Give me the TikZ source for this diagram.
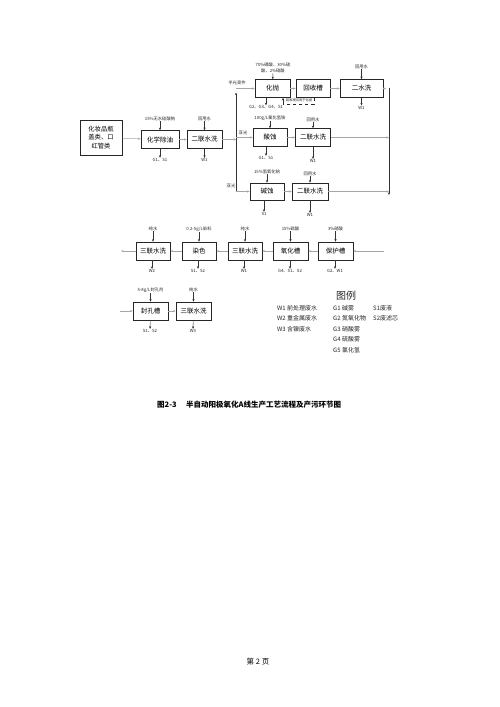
\documentclass[tikz,border=0pt]{standalone}
\usepackage{fontspec}
\newfontfamily\cjk{Noto Sans CJK SC}
\usetikzlibrary{arrows.meta}
\begin{document}
\begin{tikzpicture}[x=1pt,y=-1pt,
  box/.style={draw=black!85, line width=0.6pt, minimum width=35pt, minimum height=18pt, inner sep=0pt, font=\cjk\fontsize{6.5}{7}\selectfont},
  lab/.style={font=\cjk\fontsize{4.3}{5}\selectfont, inner sep=0.3pt, text=black!85},
  leg/.style={font=\cjk\fontsize{6}{7}\selectfont, inner sep=0pt, anchor=west, text=black!85},
  arr/.style={-{Stealth[length=2.6pt,width=2.2pt]}, line width=0.4pt, black!80},
  flow/.style={-{Stealth[length=2.6pt,width=2.2pt]}, line width=0.5pt, black!35},
  ln/.style={line width=0.6pt, black!85}]
\useasboundingbox (0,0) rectangle (500,707);
\fill[white] (0,0) rectangle (500,707);

% ---------- left part ----------
\node[box, minimum width=42pt, minimum height=35pt, align=center, font=\cjk\fontsize{6.3}{8.5}\selectfont] (src) at (101,137.5) {化妆品瓶\\盖类、口\\红管类};
\node[box, minimum width=38pt] (cy) at (160,139.5) {化学除油};
\node[box] (sx1) at (204.5,139.5) {二联水洗};
\node[lab] (cyin) at (160,119) {15\%无水硅酸钠};
\node[lab] (cyout) at (160,160) {G1、S1};
\node[lab] (sx1in) at (204.5,119) {回用水};
\node[lab] (sx1out) at (204.5,160) {W1};
\draw[arr] (cyin) -- (cy);
\draw[arr] (cy) -- (cyout);
\draw[arr] (sx1in) -- (sx1);
\draw[arr] (sx1) -- (sx1out);
\draw[flow] (src) -- (cy);
\draw[flow] (cy) -- (sx1);

% ---------- trunk ----------
\coordinate (t1) at (236,88.5);
\coordinate (t2) at (236,137.5);
\coordinate (t3) at (236,191.5);
\coordinate (tm) at (236,139.5);
\draw[flow] (sx1) -- (tm);
\draw[arr, line width=0.6pt] (t3) -- ([yshift=-4pt]t1);

% ---------- row 1 ----------
\node[box] (hp) at (272.5,88.5) {化抛};
\node[box, minimum width=34pt] (hs) at (313,88.5) {回收槽};
\node[box, minimum width=43pt] (ex) at (361.5,88.5) {二水洗};
\node[lab, align=center, font=\cjk\fontsize{4.3}{6}\selectfont] (hpin) at (273,68) {70\%磷酸、30\%硫\\酸、2\%硝酸};
\node[lab] (hpout) at (266,107.5) {G2、G3、G4、S1};
\node[lab] (exin) at (361.5,67) {回用水};
\node[lab] (exout) at (361.5,107.5) {W1};
\node[lab] (l1) at (237,83) {半光亮件};
\draw[arr] (hpin) -- (hp);
\draw[arr] (hp.south -| hpout) -- (hpout);
\draw[arr] (exin) -- (ex);
\draw[arr] (ex) -- (exout);
\draw[flow] (t1) -- (hp);
\draw[flow] (hp) -- (hs);
\draw[flow] (hs) -- (ex);
% recycle
\coordinate (rc1) at (314,104);
\coordinate (rc2) at (283,104);
\draw[ln, dashed, line width=0.5pt] (hs.south -| rc1) -- (rc1) -- (rc2);
\draw[arr] (rc2) -- (hp.south -| rc2);
\node[lab, font=\cjk\fontsize{3.3}{4}\selectfont] (rcl) at (299,100) {回收液回用于化抛};

% ---------- row 2 ----------
\node[box, minimum width=34pt] (sy) at (270,137.5) {酸蚀};
\node[box] (sx2) at (313,137.5) {二联水洗};
\node[lab] (syin) at (270,118) {100g/L氟化氢铵};
\node[lab] (syout) at (266,158) {G1、S1};
\node[lab] (sx2in) at (313,120) {回用水};
\node[lab] (sx2out) at (313,161) {W1};
\node[lab] (l2) at (243,133) {亚光};
\draw[arr] (syin) -- (sy);
\draw[arr] (sy.south -| syout) -- (syout);
\draw[arr] (sx2in) -- (sx2);
\draw[arr] (sx2) -- (sx2out);
\draw[flow] (t2) -- (sy);
\draw[flow] (sy) -- (sx2);

% ---------- row 3 ----------
\node[box, minimum width=34pt, minimum height=17pt] (jy) at (267,191.5) {碱蚀};
\node[box, minimum width=36pt, minimum height=17pt] (sx3) at (310,191.5) {二联水洗};
\node[lab] (jyin) at (267,172) {15\%氢氧化钠};
\node[lab] (jyout) at (264,214) {S1};
\node[lab] (sx3in) at (310,174) {回用水};
\node[lab] (sx3out) at (310,215) {W1};
\node[lab] (l3) at (231,186) {亚光};
\draw[arr] (jyin) -- (jy);
\draw[arr] (jy.south -| jyout) -- (jyout);
\draw[arr] (sx3in) -- (sx3);
\draw[arr] (sx3) -- (sx3out);
\draw[flow] (t3) -- (jy);
\draw[flow] (jy) -- (sx3);

% ---------- right collector ----------
\coordinate (c1) at (389,88.5);
\coordinate (c2) at (389,137.5);
\coordinate (c3) at (389,191.5);
\coordinate (cb) at (389,195);
\draw[flow] (ex) -- ([xshift=-3pt]c1);
\draw[flow] (sx2) -- (c2);
\draw[flow] (sx3) -- (c3);
\draw[arr, line width=0.6pt] ([yshift=1pt]c1) -- (cb);

% ---------- row 4 ----------
\node[box, minimum width=34pt] (sl1) at (153,251) {三联水洗};
\node[box, minimum width=34pt] (rs) at (199,251) {染色};
\node[box, minimum width=34pt] (sl2) at (245,251) {三联水洗};
\node[box] (yh) at (290.5,251) {氧化槽};
\node[box] (bh) at (335.5,251) {保护槽};
\node[lab] (sl1in) at (153,229) {纯水};
\node[lab] (rsin) at (199,229) {0.2-5g/L染料};
\node[lab] (sl2in) at (245,229) {纯水};
\node[lab] (yhin) at (290.5,229) {15\%硫酸};
\node[lab] (bhin) at (335.5,229) {3\%硝酸};
\node[lab] (sl1out) at (152,271) {W2};
\node[lab] (rsout) at (198,271) {S1、S2};
\node[lab] (sl2out) at (244,271) {W1};
\node[lab] (yhout) at (290,271) {G4、S1、S2};
\node[lab] (bhout) at (335,271) {G2、W1};
\foreach \n in {sl1,rs,sl2,yh,bh}{
  \draw[arr] (\n in) -- (\n);
  \draw[arr] (\n.south -| \n out) -- (\n out);
}
\coordinate (r4in) at (384,251);
\coordinate (r4out) at (121,251);
\draw[flow] (r4in) -- (bh);
\draw[flow] (bh) -- (yh);
\draw[flow] (yh) -- (sl2);
\draw[flow] (sl2) -- (rs);
\draw[flow] (rs) -- (sl1);
\draw[flow] (sl1) -- (r4out);

% ---------- row 5 ----------
\node[box] (fk) at (150.5,311) {封孔槽};
\node[box] (sl3) at (193.5,311) {三联水洗};
\node[lab] (fkin) at (150.5,290) {5-8g/L封孔剂};
\node[lab] (sl3in) at (193.5,290) {纯水};
\node[lab] (fkout) at (150,331) {S1、S2};
\node[lab] (sl3out) at (193,331) {W3};
\draw[arr] (fkin) -- (fk);
\draw[arr] (sl3in) -- (sl3);
\draw[arr] (fk) -- (fkout);
\draw[arr] (sl3) -- (sl3out);
\coordinate (r5in) at (120,311);
\draw[flow] (r5in) -- (fk);
\draw[flow] (fk) -- (sl3);

% ---------- legend ----------
\node[font=\cjk\fontsize{10}{11}\selectfont, text=black!85] (lgt) at (346,296) {图例};
\node[leg] (w1) at (277,308) {W1 前处理废水};
\node[leg] (w2) at (277,318.5) {W2 重金属废水};
\node[leg] (w3) at (277,329) {W3 含镍废水};
\node[leg] (g1) at (333,308) {G1 碱雾};
\node[leg] (g2) at (333,318.5) {G2 氮氧化物};
\node[leg] (g3) at (333,329) {G3 硝酸雾};
\node[leg] (g4) at (333,339.5) {G4 硫酸雾};
\node[leg] (g5) at (333,350) {G5 氯化氢};
\node[leg] (s1) at (373,308) {S1废液};
\node[leg] (s2) at (373,318.5) {S2废滤芯};

% ---------- caption & footer ----------
\node[font=\cjk\bfseries\fontsize{7.5}{8}\selectfont, anchor=west, inner sep=0pt] (capn) at (157,404.5) {图2-3};
\node[font=\cjk\bfseries\fontsize{7.5}{8}\selectfont, anchor=west, inner sep=0pt] (capt) at (186,404.5) {半自动阳极氧化A线生产工艺流程及产污环节图};
\node[font=\cjk\fontsize{7.5}{8}\selectfont, inner sep=0pt] (foot) at (258,662) {第 2 页};
\end{tikzpicture}
\end{document}
